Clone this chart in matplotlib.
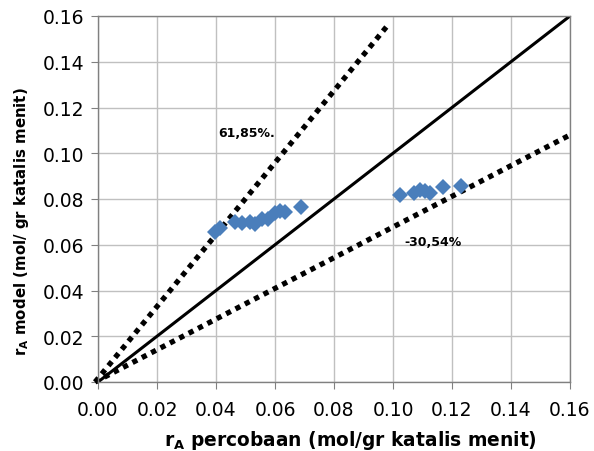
import matplotlib
matplotlib.use("Agg")
import matplotlib.pyplot as plt
import numpy as np

# Data
x_exp = [0.0397, 0.0414, 0.0464, 0.0488, 0.0515, 0.0532, 0.0556, 0.0576, 0.0600,
         0.0617, 0.0634, 0.0688,
         0.1024, 0.1071, 0.1092, 0.1108, 0.1125, 0.1169, 0.1231]
y_model = [0.0656, 0.0673, 0.0699, 0.0695, 0.0699, 0.0691, 0.0713, 0.0713, 0.0739,
           0.0748, 0.0743, 0.0765,
           0.0817, 0.0826, 0.0839, 0.0835, 0.0826, 0.0852, 0.0857]

diag_x = [0.0, 0.16]
diag_y = [0.0, 0.16]
upper_x = [-0.001, 0.098]
upper_y = [0.0, 0.1556]
lower_x = [-0.001, 0.16]
lower_y = [0.0, 0.108]

ticks = [0.00, 0.02, 0.04, 0.06, 0.08, 0.10, 0.12, 0.14, 0.16]
label_upper = "61,85%."
label_lower = "-30,54%"

plt.rcParams['font.family'] = ['DejaVu Sans']

fig = plt.figure(figsize=(5.94, 4.52), dpi=100)
ax = fig.add_axes([98/594, 1-383/452, (570-98)/594, (383-17)/452])

ax.set_xlim(0, 0.16)
ax.set_ylim(0, 0.16)
ax.set_xticks(ticks)
ax.set_yticks(ticks)
ax.set_xticklabels([f"{t:.2f}" for t in ticks])
ax.set_yticklabels([f"{t:.2f}" for t in ticks])
ax.grid(True, color='#c0c0c0', linewidth=1.0)
ax.set_axisbelow(True)
for s in ax.spines.values():
    s.set_color('#808080')
    s.set_linewidth(1.0)
ax.tick_params(axis='both', direction='out', length=5, color='#808080',
               labelsize=13.5, labelcolor='black')
ax.tick_params(axis='x', pad=8)
ax.tick_params(axis='y', pad=5)

ax.plot(diag_x, diag_y, color='black', linewidth=2.2, solid_capstyle='butt')
ax.plot(upper_x, upper_y, color='black', linewidth=3.8, linestyle=(0, (1, 1.0)),
        dash_capstyle='butt', clip_on=False)
ax.plot(lower_x, lower_y, color='black', linewidth=3.8, linestyle=(0, (1, 1.0)),
        dash_capstyle='butt', clip_on=False)

ax.plot(x_exp, y_model, linestyle='none', marker='D', markersize=8,
        color='#4A7EBB', markeredgewidth=0, zorder=5)

ax.text(0.0407, 0.1089, label_upper, fontsize=9, fontweight='bold', va='center', ha='left')
ax.text(0.104, 0.0616, label_lower, fontsize=9, fontweight='bold', va='center', ha='left')

ax.set_xlabel(r"r$_\mathregular{A}$ percobaan (mol/gr katalis menit)",
              fontsize=13.4, fontweight='bold')
ax.xaxis.set_label_coords((350-98)/472, -(440-383)/366)
ax.xaxis.label.set_va('center')
ax.set_ylabel(r"r$_\mathregular{A}$ model (mol/ gr katalis menit)",
              fontsize=10.8, fontweight='bold')
ax.yaxis.set_label_coords(-(98-22)/472, (383-222)/366)
ax.yaxis.label.set_va('center')

fig.savefig("out.png", dpi=100)
